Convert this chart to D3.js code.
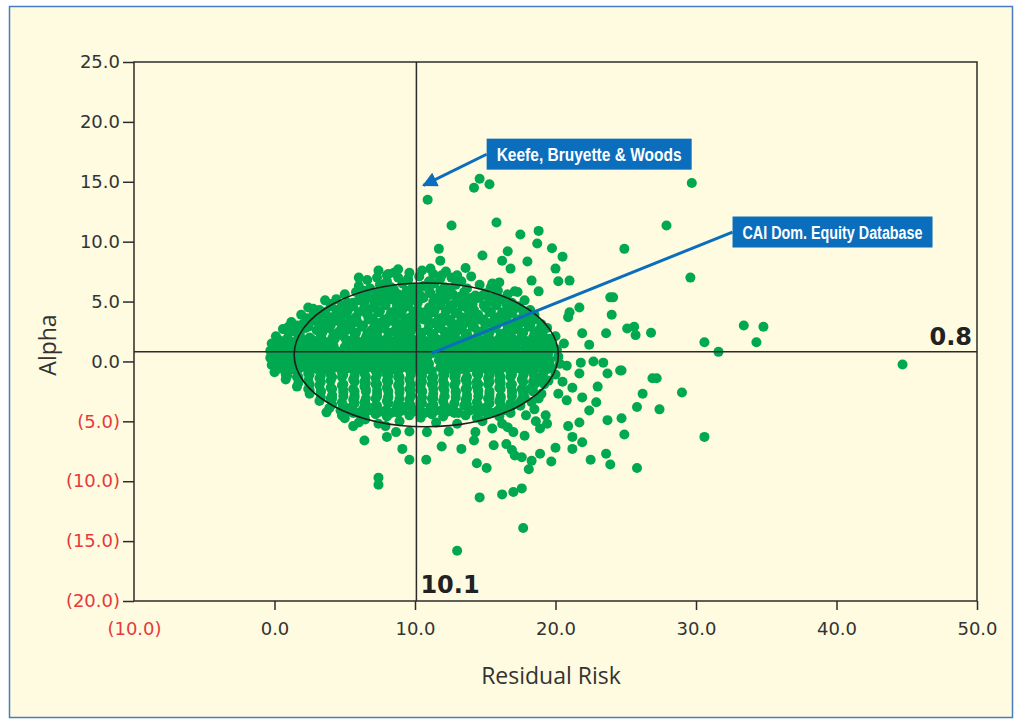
<!DOCTYPE html>
<html>
<head>
<meta charset="utf-8">
<script src="https://cdn.jsdelivr.net/npm/d3@7"></script>
<style>
  html, body { margin: 0; padding: 0; background: #ffffff; }
  svg { display: block; }
</style>
</head>
<body>
<div id="chart"></div>
<script>
// axis ticks
var riskTicks = [-10, 0, 10, 20, 30, 40, 50];
var alphaTicks = [-20, -15, -10, -5, 0, 5, 10, 15, 20, 25];

// medians of the universe (cross lines)
var medianRisk = 10.1;
var medianAlpha = 0.8;

// 1 sd ellipse, centre and radii in data units
var ellipseCenter = [10.8, 0.55];
var ellipseRadii = [9.4, 6.0];

// funds: [residual risk, alpha]
var fundsCore = [
  [7.4,7.6],[8.1,7.3],[8.8,7.7],[9.6,7.4],[10.5,7.6],[11.3,7.3],[12.2,7.5],[13.0,7.2],[13.6,7.8],
  [6.6,6.8],[7.3,7.0],[8.0,6.7],[8.8,7.0],[9.5,6.8],[10.3,7.1],[11.0,6.7],[11.8,6.9],[12.6,7.0],[13.3,6.7],[14.0,7.1],
  [6.0,6.3],[6.8,6.1],[7.5,6.4],[8.3,6.2],[9.1,6.5],[9.8,6.1],[10.6,6.3],[11.4,6.5],[12.1,6.2],[12.9,6.4],[13.7,6.1],[14.6,6.4],[15.4,6.2],
  [5.0,5.6],[5.8,5.8],[6.5,5.5],[7.3,5.7],[8.1,5.9],[8.8,5.6],[9.6,5.8],[10.4,5.5],[11.1,5.7],[11.9,5.9],[12.7,5.6],[13.5,5.8],[14.3,5.5],[15.0,5.7],[15.9,5.9],[16.6,5.6],[17.3,5.8],
  [3.6,5.1],[4.4,5.2],[5.2,4.9],[6.0,5.1],[6.7,5.3],[7.5,5.0],[8.3,5.2],[9.0,4.9],[9.8,5.1],[10.6,5.3],[11.3,5.0],[12.1,5.2],[12.9,4.9],[13.7,5.1],[14.5,5.3],[15.3,5.0],[16.1,5.2],[16.9,4.9],[17.8,5.1],
  [2.4,4.5],[3.2,4.3],[4.0,4.6],[4.8,4.4],[5.6,4.6],[6.3,4.3],[7.1,4.5],[7.9,4.7],[8.7,4.4],[9.5,4.6],[10.2,4.3],[11.0,4.5],[11.8,4.7],[12.6,4.4],[13.4,4.6],[14.2,4.3],[15.0,4.5],[15.8,4.7],[16.6,4.4],[17.4,4.6],[18.2,4.3],
  [1.9,3.9],[2.7,3.7],[3.5,4.0],[4.3,3.8],[5.0,4.0],[5.8,3.7],[6.6,3.9],[7.4,4.1],[8.2,3.8],[8.9,4.0],[9.7,3.7],[10.5,3.9],[11.3,4.1],[12.1,3.8],[12.9,4.0],[13.7,3.7],[14.5,3.9],[15.3,4.1],[16.1,3.8],[16.9,4.0],[17.7,3.7],[18.5,3.9],
  [1.2,3.3],[2.0,3.1],[2.8,3.4],[3.6,3.2],[4.4,3.4],[5.1,3.1],[5.9,3.3],[6.7,3.5],[7.5,3.2],[8.3,3.4],[9.0,3.1],[9.8,3.3],[10.6,3.5],[11.4,3.2],[12.2,3.4],[13.0,3.1],[13.8,3.3],[14.6,3.5],[15.4,3.2],[16.2,3.4],[17.0,3.1],[17.8,3.3],[18.5,3.5],[19.0,3.1],
  [0.6,2.7],[1.4,2.5],[2.2,2.8],[3.0,2.6],[3.8,2.8],[4.6,2.5],[5.4,2.7],[6.2,2.9],[6.9,2.6],[7.7,2.8],[8.5,2.5],[9.3,2.7],[10.1,2.9],[10.9,2.6],[11.7,2.8],[12.5,2.5],[13.3,2.7],[14.1,2.9],[14.9,2.6],[15.7,2.8],[16.5,2.5],[17.3,2.7],[18.1,2.9],[18.8,2.6],[19.4,2.8],
  [0.1,2.1],[0.9,1.9],[1.7,2.2],[2.5,2.0],[3.3,2.2],[4.1,1.9],[4.9,2.1],[5.7,2.3],[6.5,2.0],[7.3,2.2],[8.0,1.9],[8.8,2.1],[9.6,2.3],[10.4,2.0],[11.2,2.2],[12.0,1.9],[12.8,2.1],[13.6,2.3],[14.4,2.0],[15.2,2.2],[16.0,1.9],[16.8,2.1],[17.6,2.3],[18.4,2.0],[19.1,2.2],[19.6,1.9],
  [-0.2,1.5],[0.6,1.3],[1.4,1.6],[2.2,1.4],[3.0,1.6],[3.8,1.3],[5.4,1.7],[6.2,1.4],[7.0,1.6],[7.8,1.3],[8.6,1.5],[9.4,1.7],[10.2,1.4],[11.0,1.6],[11.8,1.3],[12.6,1.5],[13.4,1.7],[14.2,1.4],[15.0,1.6],[15.8,1.3],[16.6,1.5],[17.4,1.7],[18.2,1.4],[19.0,1.6],[19.8,1.3],
  [-0.3,0.9],[0.4,0.7],[1.2,1.0],[2.0,0.8],[2.8,1.0],[3.6,0.7],[4.4,0.9],[5.2,1.1],[6.0,0.8],[6.8,1.0],[7.6,0.7],[8.4,0.9],[9.2,1.1],[10.0,0.8],[10.8,1.0],[11.6,0.7],[12.4,0.9],[13.2,1.1],[14.0,0.8],[14.8,1.0],[15.6,0.7],[16.4,0.9],[17.2,1.1],[18.0,0.8],[18.8,1.0],[19.5,0.7],[20.1,1.0],
  [-0.3,0.3],[0.5,0.1],[1.3,0.4],[2.1,0.2],[2.9,0.4],[3.7,0.1],[4.5,0.3],[5.3,0.5],[6.1,0.2],[6.9,0.4],[7.7,0.1],[8.5,0.3],[9.3,0.5],[10.1,0.2],[10.9,0.4],[11.7,0.1],[12.5,0.3],[13.3,0.5],[14.1,0.2],[14.9,0.4],[15.7,0.1],[16.5,0.3],[17.3,0.5],[18.1,0.2],[18.9,0.4],[19.6,0.1],[20.2,0.4],
  [-0.2,-0.3],[0.6,-0.5],[1.4,-0.2],[2.2,-0.4],[3.0,-0.2],[3.8,-0.5],[4.6,-0.3],[5.4,-0.1],[6.2,-0.4],[7.0,-0.2],[7.8,-0.5],[8.6,-0.3],[9.4,-0.1],[10.2,-0.4],[11.0,-0.2],[11.8,-0.5],[12.6,-0.3],[13.4,-0.1],[14.2,-0.4],[15.0,-0.2],[15.8,-0.5],[16.6,-0.3],[17.4,-0.1],[18.2,-0.4],[19.0,-0.2],[19.7,-0.5],[20.3,-0.2],
  [0.0,-0.9],[0.8,-1.1],[1.6,-0.8],[2.4,-1.0],[3.2,-0.8],[4.0,-1.1],[4.8,-0.9],[5.6,-0.7],[6.4,-1.0],[7.2,-0.8],[8.0,-1.1],[8.8,-0.9],[9.6,-0.7],[10.4,-1.0],[11.2,-0.8],[12.0,-1.1],[12.8,-0.9],[13.6,-0.7],[14.4,-1.0],[15.2,-0.8],[16.0,-1.1],[16.8,-0.9],[17.6,-0.7],[18.4,-1.0],[19.2,-0.8],[20.0,-1.1],
  [0.8,-1.5],[1.6,-1.3],[2.4,-1.6],[3.2,-1.4],[4.0,-1.6],[4.8,-1.3],[5.6,-1.5],[6.4,-1.7],[7.2,-1.4],[8.0,-1.6],[8.8,-1.3],[9.6,-1.5],[10.4,-1.7],[11.2,-1.4],[12.0,-1.6],[12.8,-1.3],[13.6,-1.5],[14.4,-1.7],[15.2,-1.4],[16.0,-1.6],[16.8,-1.3],[17.6,-1.5],[18.4,-1.7],[19.0,-1.4],[19.5,-1.6],
  [1.6,-2.1],[2.4,-2.3],[3.2,-2.0],[4.0,-2.2],[4.8,-2.0],[5.6,-2.3],[6.4,-2.1],[7.2,-1.9],[8.0,-2.2],[8.8,-2.0],[9.6,-2.3],[10.4,-2.1],[11.2,-1.9],[12.0,-2.2],[12.8,-2.0],[13.6,-2.3],[14.4,-2.1],[15.2,-1.9],[16.0,-2.2],[16.8,-2.0],[17.6,-2.3],[18.4,-2.1],[19.2,-1.9],
  [2.5,-2.7],[3.3,-2.5],[4.1,-2.8],[4.9,-2.6],[5.7,-2.8],[6.5,-2.5],[7.3,-2.7],[8.1,-2.9],[8.9,-2.6],[9.7,-2.8],[10.5,-2.5],[11.3,-2.7],[12.1,-2.9],[12.9,-2.6],[13.7,-2.8],[14.5,-2.5],[15.3,-2.7],[16.1,-2.9],[16.9,-2.6],[17.7,-2.8],[18.4,-2.5],[19.0,-2.7],
  [3.2,-3.3],[4.0,-3.1],[4.8,-3.4],[5.6,-3.2],[6.4,-3.4],[7.2,-3.1],[8.0,-3.3],[8.8,-3.5],[9.6,-3.2],[10.4,-3.4],[11.2,-3.1],[12.0,-3.3],[12.8,-3.5],[13.6,-3.2],[14.4,-3.4],[15.2,-3.1],[16.0,-3.3],[16.8,-3.5],[17.6,-3.2],[18.3,-3.4],[18.8,-3.1],
  [3.9,-3.9],[4.7,-4.1],[5.5,-3.8],[6.3,-4.0],[7.1,-3.8],[7.9,-4.1],[8.7,-3.9],[9.5,-3.7],[10.3,-4.0],[11.1,-3.8],[11.9,-4.1],[12.7,-3.9],[13.5,-3.7],[14.3,-4.0],[15.1,-3.8],[15.9,-4.1],[16.7,-3.9],[17.5,-3.7],[18.5,-4.0],
  [4.8,-4.5],[5.6,-4.3],[6.4,-4.6],[7.2,-4.4],[8.0,-4.6],[8.8,-4.3],[9.6,-4.5],[10.4,-4.7],[11.2,-4.4],[12.0,-4.6],[12.8,-4.3],[13.6,-4.5],[14.4,-4.7],[15.2,-4.4],[16.0,-4.6],[16.8,-4.3],[17.9,-4.5],
  [6.0,-5.1],[7.4,-5.2],[8.9,-5.0],[11.5,-5.1],[13.0,-5.2],[14.8,-5.0],[16.2,-5.2],[18.6,-5.0]
];

// funds packed in between the rows above, where the cloud is solid
var fundsDense = [
  [7.7,6.0],[8.5,6.0],[9.4,5.9],[10.2,6.1],[11.0,6.0],[11.8,5.9],[12.5,6.1],
  [6.2,5.4],[7.0,5.3],[7.7,5.5],[8.5,5.4],[9.3,5.3],[10.1,5.5],[11.6,5.3],[12.4,5.5],[13.2,5.4],[14.0,5.3],[14.8,5.5],[15.6,5.4],
  [4.0,4.8],[4.8,4.7],[5.6,4.9],[6.4,4.8],[7.1,4.7],[7.9,4.9],[8.7,4.8],[9.4,4.7],[10.2,4.9],[11.7,4.8],[12.5,4.7],[13.3,4.9],[14.1,4.8],[14.9,4.7],[15.7,4.9],[16.5,4.8],
  [2.8,4.2],[3.6,4.1],[4.4,4.3],[5.2,4.2],[6.0,4.1],[6.7,4.3],[7.5,4.2],[8.3,4.1],[9.1,4.3],[9.9,4.2],[10.7,4.1],[11.4,4.3],[12.2,4.2],[13.0,4.1],[13.8,4.3],[15.4,4.2],[16.2,4.1],[17.0,4.3],[17.7,4.2],
  [2.3,3.6],[3.1,3.5],[3.9,3.7],[4.7,3.6],[5.4,3.5],[7.0,3.6],[7.8,3.5],[8.6,3.7],[9.3,3.6],[10.1,3.5],[10.9,3.7],[11.7,3.6],[12.5,3.5],[13.3,3.7],[14.1,3.6],[14.9,3.5],[15.7,3.7],[16.5,3.6],[17.3,3.5],[18.0,3.7],
  [1.6,3.0],[2.4,2.9],[3.2,3.1],[4.0,3.0],[4.8,2.9],[5.5,3.1],[6.3,3.0],[7.1,2.9],[7.9,3.1],[8.7,3.0],[9.4,2.9],[11.0,3.0],[11.8,2.9],[12.6,3.1],[13.4,3.0],[14.2,2.9],[15.0,3.1],[15.8,3.0],[16.6,2.9],[17.4,3.1],[18.2,3.0],
  [1.0,2.4],[1.8,2.3],[3.4,2.4],[4.2,2.3],[5.0,2.5],[5.8,2.4],[6.6,2.3],[7.3,2.5],[8.1,2.4],[8.9,2.3],[9.7,2.5],[10.5,2.4],[11.3,2.3],[12.1,2.5],[12.9,2.4],[13.7,2.3],[14.5,2.5],[15.3,2.4],[16.1,2.3],[16.9,2.5],[17.7,2.4],[18.5,2.3],[19.0,2.5],
  [0.3,1.8],[1.1,1.7],[1.9,1.9],[2.7,1.8],[3.5,1.7],[4.3,1.9],[5.1,1.8],[5.9,1.7],[6.7,1.9],[7.5,1.8],[8.3,1.7],[9.1,1.9],[9.9,1.8],[10.7,1.7],[11.5,1.9],[12.3,1.8],[13.1,1.7],[13.9,1.9],[14.7,1.8],[15.5,1.7],[16.3,1.9],[17.1,1.8],[17.9,1.7],[18.7,1.9],[19.3,1.8],
  [0.2,1.2],[1.0,1.1],[1.8,1.3],[2.6,1.2],[3.4,1.1],[4.2,1.3],[5.0,1.2],[5.8,1.1],[6.6,1.3],[7.4,1.2],[8.2,1.1],[9.0,1.3],[9.8,1.2],[10.6,1.1],[11.4,1.3],[12.2,1.2],[13.0,1.1],[13.8,1.3],[14.6,1.2],[15.4,1.1],[16.2,1.3],[17.0,1.2],[17.8,1.1],[18.6,1.3],[19.4,1.2],
  [0.1,0.6],[0.9,0.5],[1.7,0.7],[2.5,0.6],[3.3,0.5],[4.1,0.7],[4.9,0.6],[5.7,0.5],[6.5,0.7],[7.3,0.6],[8.1,0.5],[8.9,0.7],[9.7,0.6],[10.5,0.5],[11.3,0.7],[12.1,0.6],[12.9,0.5],[13.7,0.7],[14.5,0.6],[15.3,0.5],[16.1,0.7],[16.9,0.6],[17.7,0.5],[18.5,0.7],[19.3,0.6],
  [0.1,0.0],[0.9,-0.1],[1.7,0.1],[2.5,0.0],[3.3,-0.1],[4.1,0.1],[4.9,0.0],[5.7,-0.1],[6.5,0.1],[7.3,0.0],[8.1,-0.1],[8.9,0.1],[9.7,0.0],[10.5,-0.1],[12.1,0.0],[12.9,-0.1],[13.7,0.1],[14.5,0.0],[15.3,-0.1],[16.1,0.1],[16.9,0.0],[17.7,-0.1],[18.5,0.1],[19.3,0.0],
  [0.3,-0.6],[1.1,-0.7],[1.9,-0.5],[2.7,-0.6],[3.5,-0.7],[4.3,-0.5],[5.1,-0.6],[5.9,-0.7],[6.7,-0.5],[7.5,-0.6],[8.3,-0.7],[9.1,-0.5],[9.9,-0.6],[10.7,-0.7],[12.3,-0.6],[13.1,-0.7],[13.9,-0.5],[14.7,-0.6],[15.5,-0.7],[16.3,-0.5],[17.1,-0.6],[17.9,-0.7],[18.7,-0.5],[19.5,-0.6],
  [0.9,-1.2],[1.7,-1.3],[2.5,-1.1],[3.3,-1.2],[4.1,-1.3],[4.9,-1.1],[5.7,-1.2],[6.5,-1.3],[7.3,-1.1],[8.1,-1.2],[8.9,-1.3],[9.7,-1.1],[10.5,-1.2],[11.3,-1.3],[12.1,-1.1],[12.9,-1.2],[13.7,-1.3],[14.5,-1.1],[15.3,-1.2],[16.1,-1.3],[16.9,-1.1],[17.7,-1.2],[18.5,-1.3],[19.1,-1.1],
  [1.7,-1.8],[2.5,-1.9],[3.3,-1.7],[4.9,-1.9],[5.7,-1.7],[6.5,-1.8],[7.3,-1.9],[8.1,-1.7],[8.9,-1.8],[9.7,-1.9],[10.5,-1.7],[11.3,-1.8],[12.1,-1.9],[12.9,-1.7],[13.7,-1.8],[14.5,-1.9],[15.3,-1.7],[16.1,-1.8],[16.9,-1.9],[17.7,-1.7],[18.6,-1.8],
  [2.5,-2.4],[3.3,-2.5],[4.1,-2.3],[4.9,-2.4],[5.7,-2.5],[6.5,-2.3],[7.3,-2.4],[8.1,-2.5],[8.9,-2.3],[9.7,-2.4],[10.5,-2.5],[11.3,-2.3],[12.1,-2.4],[12.9,-2.5],[13.7,-2.3],[14.5,-2.4],[15.3,-2.5],[16.1,-2.3],[16.9,-2.4],[17.7,-2.5],[18.2,-2.3],
  [3.3,-3.0],[4.1,-3.1],[4.9,-2.9],[5.7,-3.0],[6.5,-3.1],[7.3,-2.9],[8.1,-3.0],[8.9,-3.1],[9.7,-2.9],[10.5,-3.0],[11.3,-3.1],[12.1,-2.9],[12.9,-3.0],[13.7,-3.1],[14.5,-2.9],[15.3,-3.0],[16.1,-3.1],[16.9,-2.9],[17.8,-3.0],
  [4.1,-3.6],[4.9,-3.7],[5.7,-3.5],[6.5,-3.6],[7.3,-3.7],[8.1,-3.5],[8.9,-3.6],[9.7,-3.7],[10.5,-3.5],[11.3,-3.6],[12.1,-3.7],[13.7,-3.6],[14.5,-3.7],[15.3,-3.5],[16.1,-3.6],[16.9,-3.7],[17.4,-3.5],
  [5.1,-4.2],[5.9,-4.3],[6.7,-4.1],[7.5,-4.2],[8.3,-4.3],[9.1,-4.1],[9.9,-4.2],[10.7,-4.3],[11.5,-4.1],[12.3,-4.2],[13.1,-4.3],[13.9,-4.1],[14.7,-4.2],[15.5,-4.3],[16.3,-4.1]
];

var fundsOuter = [
  // high alpha
  [10.9,13.5],[14.6,15.25],[15.3,14.8],[14.2,14.5],[12.6,11.35],[15.8,11.6],[17.5,10.6],[18.8,10.9],[18.7,9.85],[19.75,9.45],
  [11.7,9.4],[14.8,8.85],[20.5,8.75],[16.6,9.2],[16.2,8.4],[18.0,8.35],[16.8,7.75],[20.0,7.75],[18.3,6.75],[20.2,6.7],[21.0,6.75],
  [18.8,5.85],[17.1,5.85],[16.0,6.6],[15.5,6.5],[23.9,5.35],[24.1,5.35],[21.7,4.5],[21.0,4.1],[20.9,3.7],[24.0,3.9],
  [21.9,2.35],[23.6,2.35],[22.4,1.4],[20.6,1.5],[20.0,2.1],
  [6.0,7.0],[6.4,5.9],[1.0,2.9],[2.75,4.4],[8.0,7.2],[8.5,7.4],[9.5,6.9],[11.1,7.75],[11.8,8.4],[11.9,7.2],
  // high risk
  [29.7,14.9],[27.9,11.35],[24.9,9.4],[29.6,7.0],[25.1,2.75],[25.6,2.9],[25.7,2.2],[26.8,2.4],[33.4,3.0],[34.8,2.9],
  [34.3,1.6],[30.6,1.6],[31.6,0.8],[44.7,-0.25],[24.7,-0.75],[26.9,-1.4],[27.2,-1.4],[26.2,-2.7],[29.0,-2.6],[25.8,-3.8],
  [27.4,-4.0],[24.7,-4.75],[24.9,-6.1],[30.6,-6.3],[25.8,-8.9],
  // low alpha
  [21.8,-0.1],[22.7,0.0],[23.4,-0.1],[23.7,-1.0],[24.6,-0.75],[23.0,-2.1],[22.4,-4.1],[22.9,-3.4],[23.7,-4.9],[21.7,-5.1],
  [20.9,-5.4],[21.2,-6.3],[21.9,-6.75],[21.2,-7.3],[20.0,-7.2],[19.7,-8.35],[18.9,-7.7],[18.3,-8.3],[18.1,-9.0],[17.6,-8.0],
  [17.1,-7.85],[16.9,-7.4],[16.5,-6.9],[15.6,-7.0],[14.4,-8.5],[15.1,-8.9],[22.5,-8.2],[23.6,-7.7],[23.9,-8.6],[17.6,-10.6],
  [17.0,-10.9],[16.2,-11.1],[14.6,-11.35],[17.7,-13.9],[13.0,-15.8],[17.8,-6.2],[16.6,-5.5],[17.0,-5.9],[15.5,-5.6],[14.2,-6.6],
  [13.3,-7.3],[12.4,-5.85],[14.3,-5.9],[19.4,-5.2],[18.9,-5.6],[19.3,-4.5],[20.2,-2.7],[20.8,-3.25],[21.9,-3.0],[21.2,-2.2],
  [20.5,-1.7],[21.7,-1.0],[20.8,-0.35],
  [3.7,-4.25],[5.6,-5.4],[6.4,-6.6],[7.4,-9.7],[7.4,-10.3],[8.0,-6.3],[8.65,-5.9],[9.1,-7.3],[9.6,-8.2],[10.8,-8.2],
  [9.6,-5.85],[10.85,-5.9],[11.9,-7.1],[5.0,-4.75],[6.45,-4.85],[7.9,-5.4]
];

// callouts: box top-left, line start, line end (data units)
var callouts = [
  {label: "Keefe, Bruyette & Woods", box: [15.1, 18.6], from: [15.1, 17.3], to: [10.6, 14.7], arrow: true, w: 205},
  {label: "CAI Dom. Equity Database", box: [32.6, 12.1], from: [32.6, 10.8], to: [11.2, 0.7], arrow: false, w: 200}
];

var W = 1016, H = 721;
var blue = "#0a6ebd", green = "#00a84f", ink = "#2b2b2b", red = "#e8383d";

var svg = d3.select("#chart").append("svg")
    .attr("width", W)
    .attr("height", H);

svg.append("rect")
    .attr("x", 9.5).attr("y", 6.5)
    .attr("width", 1003).attr("height", 711)
    .attr("fill", "#fefbe0")
    .attr("stroke", "#4a7cc4")
    .attr("stroke-width", 1.5);

var x = d3.scaleLinear().domain([-10, 50]).range([134, 977]);
var y = d3.scaleLinear().domain([-20, 25]).range([601, 62]);

var fmt = function(v) {
  return v < 0 ? "(" + Math.abs(v).toFixed(1) + ")" : v.toFixed(1);
};

// points
svg.append("g").selectAll("circle")
    .data(fundsCore.concat(fundsDense, fundsOuter))
    .enter().append("circle")
      .attr("cx", function(d) { return x(d[0]); })
      .attr("cy", function(d) { return y(d[1]); })
      .attr("r", 5)
      .attr("fill", green);

// median cross
svg.append("line")
    .attr("x1", x(medianRisk)).attr("x2", x(medianRisk))
    .attr("y1", y(25)).attr("y2", y(-20))
    .attr("stroke", ink).attr("stroke-width", 1.5);
svg.append("line")
    .attr("x1", x(-10)).attr("x2", x(50))
    .attr("y1", y(medianAlpha)).attr("y2", y(medianAlpha))
    .attr("stroke", ink).attr("stroke-width", 1.5);

svg.append("ellipse")
    .attr("cx", x(ellipseCenter[0]))
    .attr("cy", y(ellipseCenter[1]))
    .attr("rx", x(ellipseRadii[0]) - x(0))
    .attr("ry", y(0) - y(ellipseRadii[1]))
    .attr("fill", "none")
    .attr("stroke", "#1e1e1e")
    .attr("stroke-width", 1.6);

// frame
svg.append("rect")
    .attr("x", x(-10)).attr("y", y(25))
    .attr("width", x(50) - x(-10))
    .attr("height", y(-20) - y(25))
    .attr("fill", "none")
    .attr("stroke", ink)
    .attr("stroke-width", 1.5);

// axes
var gy = svg.append("g")
    .attr("transform", "translate(" + x(-10) + ",0)")
    .call(d3.axisLeft(y).tickValues(alphaTicks).tickSize(11).tickPadding(3).tickFormat(fmt));
var gx = svg.append("g")
    .attr("transform", "translate(0," + y(-20) + ")")
    .call(d3.axisBottom(x).tickValues(riskTicks).tickSize(9).tickPadding(12).tickFormat(fmt));

[gy, gx].forEach(function(g) {
  g.select(".domain").remove();
  g.selectAll(".tick line").attr("stroke", ink).attr("stroke-width", 1.5);
  g.selectAll(".tick text")
      .attr("font-family", "DejaVu Sans, Verdana, sans-serif")
      .attr("font-size", 18)
      .attr("fill", function(d) { return d < 0 ? red : "#333"; });
});
gx.selectAll(".tick line").filter(function(d) { return d === -10; }).remove();

// axis titles
svg.append("text")
    .attr("x", 551).attr("y", 684)
    .attr("text-anchor", "middle")
    .attr("font-family", "Open Sans, sans-serif")
    .attr("font-size", 23)
    .attr("fill", "#333")
    .text("Residual Risk");
svg.append("text")
    .attr("transform", "translate(56,345) rotate(-90)")
    .attr("text-anchor", "middle")
    .attr("font-family", "Open Sans, sans-serif")
    .attr("font-size", 23)
    .attr("fill", "#333")
    .text("Alpha");

// median labels
svg.append("text")
    .attr("x", x(50) - 5).attr("y", y(medianAlpha) - 7)
    .attr("text-anchor", "end")
    .attr("font-family", "DejaVu Sans, sans-serif")
    .attr("font-weight", "bold")
    .attr("font-size", 24)
    .attr("fill", "#222")
    .text(medianAlpha.toFixed(1));
svg.append("text")
    .attr("x", x(medianRisk) + 4).attr("y", y(-20) - 8)
    .attr("font-family", "DejaVu Sans, sans-serif")
    .attr("font-weight", "bold")
    .attr("font-size", 24)
    .attr("fill", "#222")
    .text(medianRisk.toFixed(1));

// callouts
svg.append("defs").append("marker")
    .attr("id", "head")
    .attr("viewBox", "0 0 10 10")
    .attr("refX", 9).attr("refY", 5)
    .attr("markerWidth", 5).attr("markerHeight", 5)
    .attr("markerUnits", "strokeWidth")
    .attr("orient", "auto")
  .append("path")
    .attr("d", "M0,0L10,5L0,10z")
    .attr("fill", blue);

callouts.forEach(function(c) {
  svg.append("line")
      .attr("x1", x(c.from[0])).attr("y1", y(c.from[1]))
      .attr("x2", x(c.to[0])).attr("y2", y(c.to[1]))
      .attr("stroke", blue)
      .attr("stroke-width", 3)
      .attr("marker-end", c.arrow ? "url(#head)" : null);
  svg.append("rect")
      .attr("x", x(c.box[0])).attr("y", y(c.box[1]))
      .attr("width", c.w).attr("height", 31)
      .attr("fill", blue);
  svg.append("text")
      .attr("x", x(c.box[0]) + 10).attr("y", y(c.box[1]) + 22)
      .attr("font-family", "Liberation Sans Narrow, Arial Narrow, sans-serif")
      .attr("font-weight", "bold")
      .attr("font-size", 18)
      .attr("fill", "#fff")
      .attr("textLength", c.w - 20)
      .attr("lengthAdjust", "spacingAndGlyphs")
      .text(c.label);
});
</script>
</body>
</html>
